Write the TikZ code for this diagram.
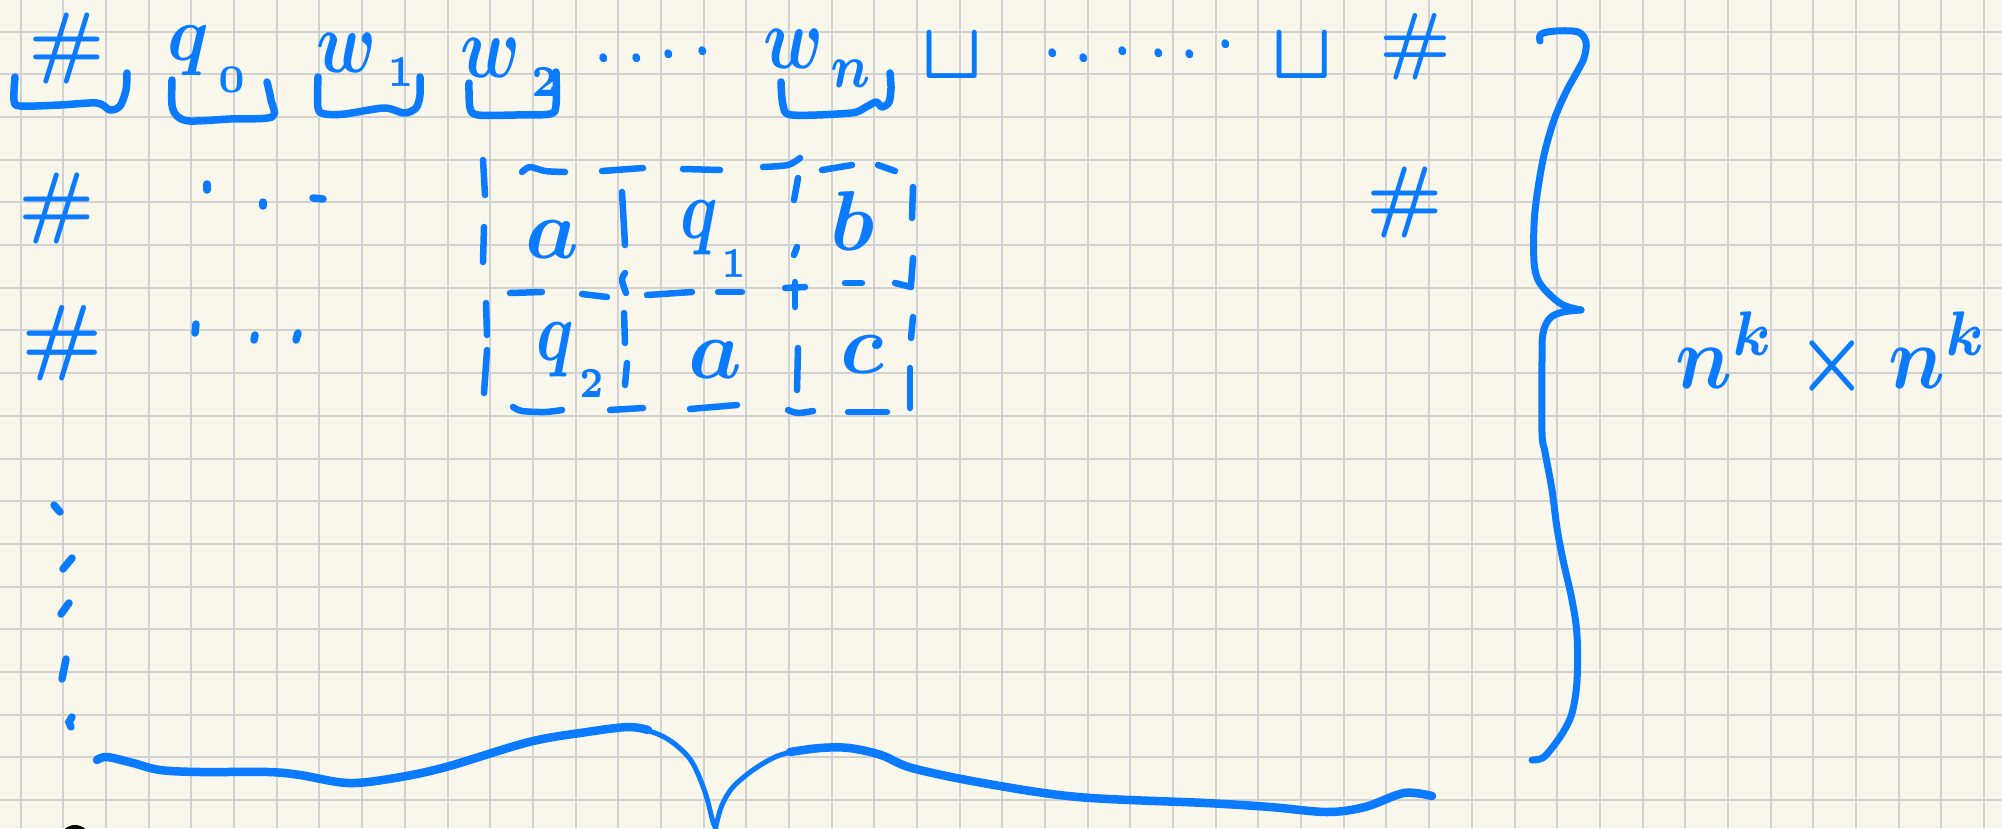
\documentclass[tikz,border=0pt]{standalone}
\definecolor{ink}{RGB}{10,122,255}
\definecolor{paper}{RGB}{249,247,236}
\definecolor{gridc}{RGB}{210,210,210}
\newcommand{\lsb}[2]{\raisebox{#1}{$\scriptscriptstyle #2$}}
\newcommand{\lsbn}[2]{\raisebox{#1}{$\scriptstyle #2$}}
\begin{document}
\begin{tikzpicture}[x=1pt,y=-1pt,
  pen/.style={draw=ink, line width=7.5pt, line cap=round, line join=round},
  thinpen/.style={draw=ink, line width=5pt, line cap=round, line join=round},
  dsh/.style={draw=ink, line width=6.5pt, line cap=round, line join=round},
  dab/.style={draw=ink, line width=7.5pt, line cap=round},
  txt/.style={text=ink, inner sep=0pt, font=\boldmath},
]
\useasboundingbox (0,0) rectangle (2002,828);
\fill[paper] (0,0) rectangle (2002,828);
\clip (0,0) rectangle (2002,828);
\foreach \k in {0,...,46} \draw[gridc, line width=2pt] ({20.7+42.68*\k},0) -- ({20.7+42.68*\k},828);
\foreach \k in {0,...,18} \draw[gridc, line width=2pt] (0,{31.7+42.68*\k}) -- (2002,{31.7+42.68*\k});

% ---------- row 1: tape ----------
\node[txt, scale=8, anchor=base] (h1) at (67,68) {$\#$};
\node[txt, xscale=7.2, yscale=7.8, anchor=base west] (q0) at (166,60) {$q\kern0.12em\lsb{-0.42em}{0}$};
\node[txt, xscale=7, yscale=8.8, anchor=base west] (w1) at (315,72) {$w\kern0.15em\lsb{-0.17em}{1}$};
\node[txt, xscale=7, yscale=8.8, anchor=base west] (w2) at (459,77) {$w\kern0.15em\lsb{-0.22em}{2}$};
\node[txt, xscale=7, yscale=8.8, anchor=base west] (wn) at (762,68) {$w\kern0.1em\lsbn{-0.22em}{n}$};
\node[txt, xscale=8, yscale=8, anchor=base] (b1) at (952,78) {$\sqcup$};
\node[txt, xscale=8, yscale=8, anchor=base] (b2) at (1302,78) {$\sqcup$};
\node[txt, scale=7.5, anchor=base] (h2) at (1415,65) {$\#$};

% cell underlines
\draw[pen] plot[smooth, tension=0.5] coordinates {(15,77) (14,100) (20,106) (60,105) (97,103) (110,110) (120,106) (126,90) (127,73)};
\draw[pen] plot[smooth, tension=0.5] coordinates {(172,80) (172,105) (177,116) (190,121) (230,119) (272,117) (271,100) (267,82)};
\draw[pen] plot[smooth, tension=0.5] coordinates {(318,77) (318,108) (325,114) (345,114) (384,108) (404,113) (416,108) (420,95) (420,77)};
\draw[pen] plot[smooth, tension=0.5] coordinates {(469,83) (470,108) (478,115) (515,115) (550,114) (556,105) (556,72)};
\draw[pen] plot[smooth, tension=0.5] coordinates {(781,82) (783,105) (792,115) (851,113) (866,107) (876,102) (882,107) (889,102) (891,88) (890,73)};

% dots row 1
\foreach \p in {(603,57),(636,57),(668,53),(702,50),(1052,52),(1083,57),(1122,50),(1158,52),(1189,53),(1225,43)}
  \draw[dab] \p -- ++(0.5,1.5);

% ---------- rows 2 and 3 ----------
\node[txt, scale=8, anchor=base] (h3) at (57,228) {$\#$};
\node[txt, scale=8.5, anchor=base] (h4) at (62,364) {$\#$};
\draw[dab] (207,184) -- (207,190);
\draw[dab] (263,202) -- (263,206);
\draw[dab] (313,198) -- (323,199);
\draw[dab] (196,324) -- (195,333);
\draw[dab] (255,335) -- (254,340);
\draw[dab] (298,333) -- (296,340);
\node[txt, scale=8, anchor=base] (h5) at (1405,222) {$\#$};

% vertical dots
\draw[dab] (54,505) -- (60,512);
\draw[dab] (72,558) -- (63,569);
\draw[dab] (69,603) -- (61,614);
\draw[dab] (66,659) -- (62,679);
\draw[dab] (72,717) -- (69,722) -- (71,727);

% ---------- configuration grid ----------
\node[txt, scale=8.5, anchor=base] (c11) at (552,258) {$a$};
\node[txt, xscale=6.5, yscale=8.5, anchor=base west] (c12) at (679,238) {$q\kern0.05em\lsb{-0.47em}{1}$};
\node[txt, scale=8.5, anchor=base] (c13) at (853,250) {$b$};
\node[txt, xscale=6.5, yscale=8.5, anchor=base west] (c21) at (535,360) {$q\kern0.08em\lsb{-0.44em}{2}$};
\node[txt, scale=8.5, anchor=base] (c22) at (715,378) {$a$};
\node[txt, scale=8.5, anchor=base] (c23) at (862,373) {$c$};

% dashed borders drawn as strokes
\draw[dsh] (483,160) -- (485,195);
\draw[dsh] (484,227) -- (483,262);
\draw[dsh] (486,303) -- (487,335);
\draw[dsh] (487,350) -- (484,393);
\draw[dsh] plot[smooth] coordinates {(522,172) (530,167) (545,171) (565,172)};
\draw[dsh] (602,171) -- (643,168);
\draw[dsh] (683,169) -- (720,170);
\draw[dsh] plot[smooth] coordinates {(763,167) (788,165) (800,158)};
\draw[dsh] (822,170) -- (852,165);
\draw[dsh] (878,165) -- (895,171);
\draw[dsh] (622,192) -- (625,245);
\draw[dsh] plot[smooth] coordinates {(625,273) (622,280) (626,293)};
\draw[dsh] (624,313) -- (625,343);
\draw[dsh] (627,363) -- (625,385);
\draw[dsh] (798,178) -- (794,200);
\draw[dsh] (797,247) -- (794,255);
\draw[dsh] (795,282) -- (795,307);
\draw[dsh] (785,288) -- (805,287);
\draw[dsh] (798,348) -- (797,390);
\draw[dsh] (913,187) -- (912,218);
\draw[dsh] (913,258) -- (911,285);
\draw[dsh] (913,317) -- (911,338);
\draw[dsh] (910,368) -- (910,408);
\draw[dsh] (510,293) -- (542,292);
\draw[dsh] (582,294) -- (607,297);
\draw[dsh] (647,295) -- (692,292);
\draw[dsh] (718,292) -- (742,292);
\draw[dsh] (845,283) -- (862,283);
\draw[dsh] (895,283) -- (911,287);
\draw[dsh] plot[smooth] coordinates {(513,407) (522,411) (545,412) (562,410)};
\draw[dsh] (610,410) -- (643,408);
\draw[dsh] (690,409) -- (737,405);
\draw[dsh] plot[smooth] coordinates {(788,410) (798,413) (813,411)};
\draw[dsh] (848,412) -- (887,412);

% ---------- right brace ----------
\draw[pen, line width=7pt] plot[smooth, tension=0.55] coordinates {(1540,41) (1541,34) (1556,31) (1578,32) (1586,42) (1584,58) (1577,72) (1566,92) (1554,120) (1544,155) (1537,195) (1534,225) (1534,262) (1538,280) (1548,293) (1563,305) (1581,310)};
\draw[pen, line width=7pt] plot[smooth, tension=0.55] coordinates {(1581,310) (1563,312) (1550,318) (1543,333) (1542,360) (1542,433) (1545,452) (1552,490) (1557,528) (1563,560) (1572,600) (1577,635) (1577,681) (1572,713) (1562,734) (1547,754) (1540,759) (1532,760)};

% ---------- label ----------
\node[txt, xscale=8, yscale=9, anchor=base west] (lab) at (1674,388) {$n^k\times n^k$};

% ---------- bottom brace ----------
\draw[pen, line width=8.5pt] plot[smooth, tension=0.55] coordinates {(97,760) (107,757) (133,763) (160,770) (200,772) (268,772) (300,775) (348,783) (395,778) (446,767) (529,742) (587,732) (628,727) (648,730)};
\draw[thinpen] plot[smooth, tension=0.55] coordinates {(640,728) (660,735) (676,745) (692,762) (705,792) (713,822) (716,828)};
\draw[thinpen] plot[smooth, tension=0.55] coordinates {(716,826) (722,805) (733,787) (753,770) (775,757) (795,751)};
\draw[pen, line width=8.5pt] plot[smooth, tension=0.55] coordinates {(790,752) (820,748) (849,748) (881,755) (912,768) (983,783) (1078,797) (1206,803) (1270,807) (1327,812) (1365,807) (1404,793) (1432,796)};

% cut-off black mark
\fill[black] (75,840) ellipse (15 and 15);
\end{tikzpicture}
\end{document}
